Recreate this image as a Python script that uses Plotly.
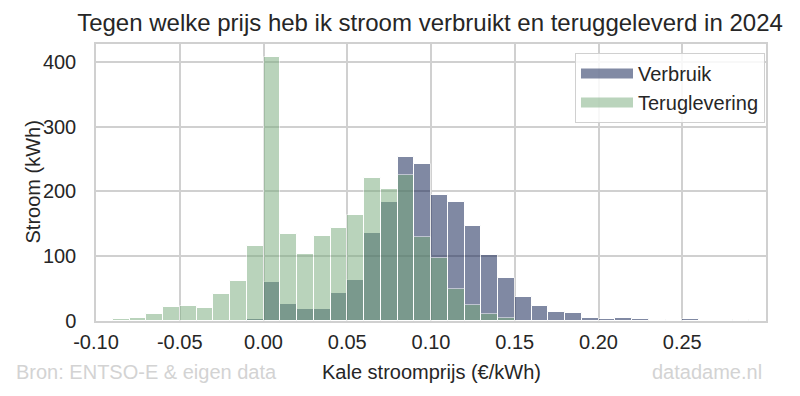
import plotly.graph_objects as go

# Bin left edges (€/kWh), bin width 0.01
bin_left = [-0.10, -0.09, -0.08, -0.07, -0.06, -0.05, -0.04, -0.03, -0.02, -0.01,
            0.00, 0.01, 0.02, 0.03, 0.04, 0.05, 0.06, 0.07, 0.08, 0.09,
            0.10, 0.11, 0.12, 0.13, 0.14, 0.15, 0.16, 0.17, 0.18, 0.19,
            0.20, 0.21, 0.22, 0.23, 0.24, 0.25, 0.26, 0.27, 0.28]
bin_width = 0.01

verbruik = [0, 0, 0, 0, 0, 0, 0, 0, 0, 3,
            60, 27, 18, 19, 43, 63, 136, 183, 253, 242,
            194, 183, 147, 102, 67, 37, 23, 14, 13, 4,
            3, 5, 3, 1, 0, 3, 0, 0, 1.5]

teruglevering = [0, 3, 5, 11, 22, 23, 20, 41, 61, 115,
                 407, 134, 104, 131, 143, 164, 220, 203, 225, 129,
                 97, 50, 25, 11, 4, 0, 0, 0, 0, 0,
                 0, 0, 0, 0, 0, 0, 0, 0, 0]

series_names = ["Verbruik", "Teruglevering"]
x_tickvals = [-0.10, -0.05, 0.00, 0.05, 0.10, 0.15, 0.20, 0.25]
x_ticktext = ["-0.10", "-0.05", "0.00", "0.05", "0.10", "0.15", "0.20", "0.25"]
y_tickvals = [0, 100, 200, 300, 400]

FONT = "Liberation Sans, Arial, sans-serif"
TEXT = "#262626"
GRID = "#d0d0d0"
FOOT = "#d3d3d3"
BLUE = "#041549"
GREEN = "#75a979"

fig = go.Figure()
for name, vals, col in [(series_names[0], verbruik, BLUE), (series_names[1], teruglevering, GREEN)]:
    fig.add_trace(go.Bar(
        x=bin_left, y=vals, width=bin_width, offset=0, name=name,
        marker=dict(color=col, line=dict(color="white", width=1)),
        opacity=0.5, showlegend=False,
    ))
# legend swatches (wide rectangles like the reference)
for name, col in [(series_names[0], BLUE), (series_names[1], GREEN)]:
    fig.add_trace(go.Scatter(
        x=[None], y=[None], mode="lines", name=name,
        line=dict(color=col, width=12), opacity=0.5, showlegend=True,
    ))

# The page adds an 8px body margin, so pixel positions are shifted by -8.
fig.update_layout(
    width=800, height=396,
    barmode="overlay",
    bargap=0,
    plot_bgcolor="white", paper_bgcolor="white",
    margin=dict(l=88, r=42, t=36, b=83, autoexpand=False),
    font=dict(family=FONT, size=20, color=TEXT),
    title=dict(text="Tegen welke prijs heb ik stroom verbruikt en teruggeleverd in 2024",
               x=422 / 800, xanchor="center", y=1 - 15 / 396, yanchor="middle",
               xref="container", yref="container",
               font=dict(size=24, color=TEXT)),
    legend=dict(x=0.9985, xanchor="right", y=0.9675, yanchor="top",
                bgcolor="rgba(255,255,255,0.85)", bordercolor="#d0d0d0", borderwidth=1,
                font=dict(size=20, color=TEXT), traceorder="normal",
                itemwidth=52, tracegroupgap=2),
    showlegend=True,
    xaxis=dict(range=[-0.10, 0.30], tickvals=x_tickvals, ticktext=x_ticktext,
               showgrid=True, gridcolor=GRID, gridwidth=1.5,
               showline=True, linecolor=GRID, linewidth=1.5, mirror=True,
               zeroline=False, ticks="", ticklabelstandoff=2, automargin=False,
               tickfont=dict(size=20, color=TEXT)),
    yaxis=dict(range=[0, 427.4], tickvals=y_tickvals,
               showgrid=True, gridcolor=GRID, gridwidth=1.5,
               showline=True, linecolor=GRID, linewidth=1.5, mirror=True,
               zeroline=False, ticks="", ticklabelstandoff=14, automargin=False,
               tickfont=dict(size=20, color=TEXT)),
)

# Axis titles and footnotes
fig.add_annotation(text="Kale stroomprijs (€/kWh)", xref="paper", yref="paper",
                   x=0.5, xanchor="center", y=-(372 - 321) / 277, yanchor="middle",
                   showarrow=False, font=dict(size=20, color=TEXT))
fig.add_annotation(text="Stroom (kWh)", xref="paper", yref="paper", textangle=-90,
                   x=(32 - 96) / 670, xanchor="center", y=0.5,
                   yanchor="middle", showarrow=False, font=dict(size=20, color=TEXT))
fig.add_annotation(text="Bron: ENTSO-E & eigen data", xref="paper", yref="paper",
                   x=(14 - 96) / 670, xanchor="left", y=-(372 - 321) / 277, yanchor="middle",
                   showarrow=False, font=dict(size=20, color=FOOT))
fig.add_annotation(text="datadame.nl", xref="paper", yref="paper",
                   x=(764 - 96) / 670, xanchor="right", y=-(372 - 321) / 277, yanchor="middle",
                   showarrow=False, font=dict(size=20, color=FOOT))

fig.write_html("out.html")
